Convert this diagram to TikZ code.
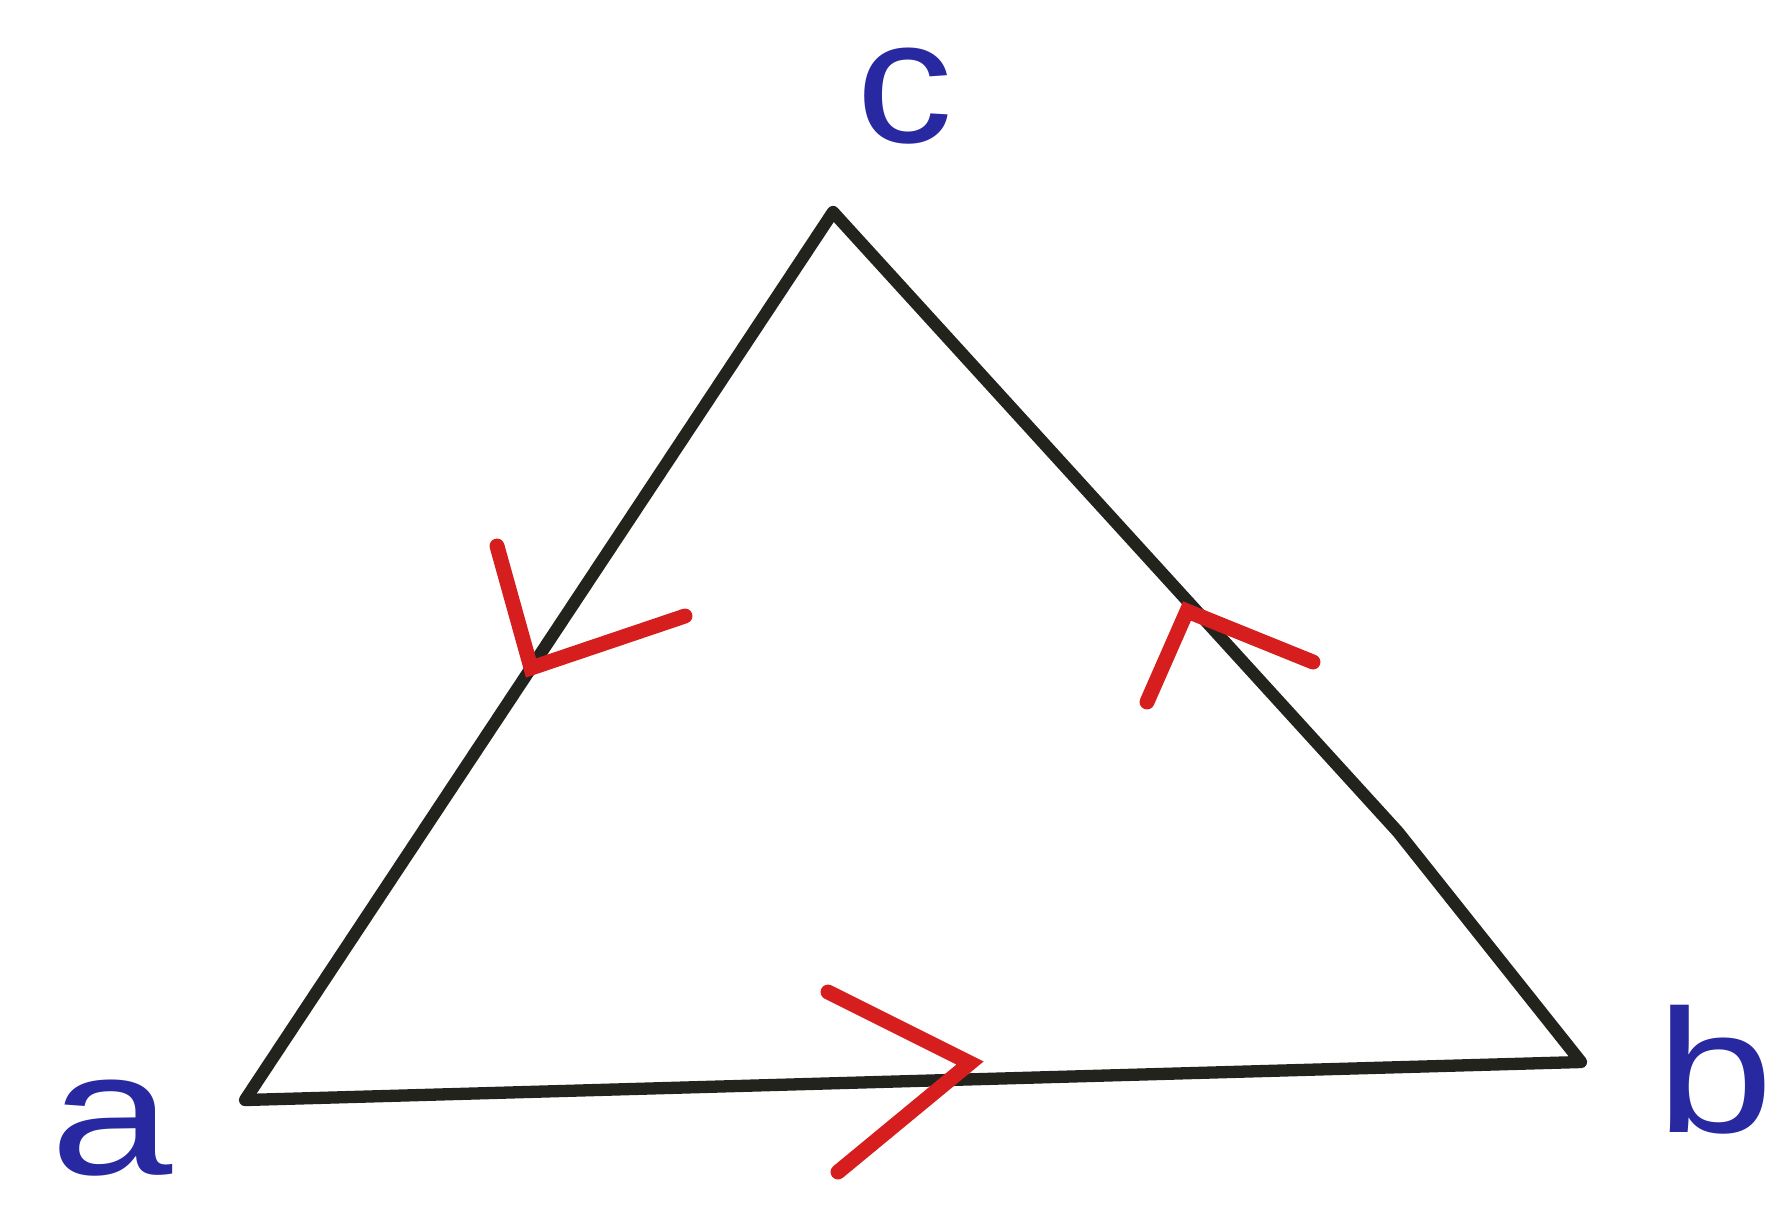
\documentclass[tikz,border=0pt]{standalone}
\usepackage{fontspec}
\setmainfont{Liberation Sans}
\definecolor{pen}{RGB}{35,35,30}
\definecolor{redpen}{RGB}{215,30,30}
\definecolor{bluepen}{RGB}{40,40,160}
\tikzset{
  edge/.style={draw=pen,line width=7pt,line join=round,line cap=round},
  chev/.style={draw=redpen,line width=8.5pt,line join=miter,line cap=round},
  vlabel/.style={text=bluepen,font=\fontsize{100}{100}\selectfont,inner sep=0pt}
}
\begin{document}
\begin{tikzpicture}[x=0.02cm,y=-0.02cm]
\useasboundingbox (0,0) rectangle (1790,1215);
\fill[white] (0,0) rectangle (1790,1215);
\coordinate (a) at (245,1100);
\coordinate (b) at (1581,1062);
\coordinate (c) at (833,212);
\coordinate (kink) at (1398,832);
\draw[edge] (a) -- (b) -- (kink) -- (c) -- cycle;
% labels
\node[vlabel,xscale=1.25] (la) at (112,1128) {a};
\node[vlabel,xscale=1.2] (lb) at (1715,1070) {b};
\node[vlabel,xscale=1.1] (lc) at (905,96) {c};
% red chevrons
\coordinate (t1) at (970,1063);
\coordinate (t1a) at (828,992);
\coordinate (t1b) at (838,1172);
\draw[chev] (t1a) -- (t1) -- (t1b);
\coordinate (t2) at (531,668);
\coordinate (t2a) at (497,546);
\coordinate (t2b) at (685,616);
\draw[chev] (t2a) -- (t2) -- (t2b);
\coordinate (t3) at (1187,611);
\coordinate (t3a) at (1147,702);
\coordinate (t3b) at (1313,662);
\draw[chev] (t3a) -- (t3) -- (t3b);
\end{tikzpicture}
\end{document}
